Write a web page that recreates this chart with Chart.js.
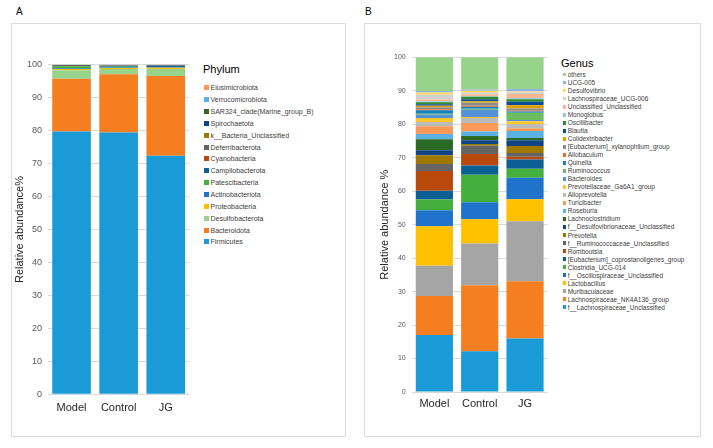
<!DOCTYPE html>
<html>
<head>
<meta charset="utf-8">
<script src="https://cdn.jsdelivr.net/npm/chart.js@4/dist/chart.umd.min.js"></script>
<style>
	html, body { margin: 0; padding: 0; background: #fff; }
	body { width: 713px; height: 448px; position: relative; overflow: hidden; font-family: "Liberation Sans", Arial, sans-serif; }
	.frame { position: absolute; box-sizing: border-box; border: 1px solid #dcdcdc; }
	.letter { position: absolute; font-size: 10px; line-height: 10px; color: #000; }
	canvas { position: absolute; }
	.legend-title { position: absolute; font-size: 11px; line-height: 11px; color: #000; white-space: nowrap; }
	.legend { position: absolute; color: #404040; white-space: nowrap; }
	.legend div { display: flex; align-items: center; }
	.legend span.box { display: inline-block; flex: none; }
</style>
</head>
<body>
<div class="letter" style="left:16px;top:7px;">A</div>
<div class="letter" style="left:365px;top:7px;">B</div>
<div class="frame" style="left:11px;top:23px;width:335px;height:414px;"></div>
<div class="frame" style="left:364px;top:23px;width:337px;height:414px;"></div>

<canvas id="phylum" width="190" height="414" style="left:11px;top:23px;width:190px;height:414px;"></canvas>
<div class="legend-title" style="left:203px;top:64px;">Phylum</div>
<div class="legend" id="phylumLegend" style="left:204px;top:81.8px;font-size:7px;"></div>

<canvas id="genus" width="190" height="414" style="left:364px;top:23px;width:190px;height:414px;"></canvas>
<div class="legend-title" style="left:561px;top:58px;">Genus</div>
<div class="legend" id="genusLegend" style="left:562.7px;top:70.7px;font-size:6.5px;"></div>

<script>
// Groups on the x axis
var groups = ['Model', 'Control', 'JG'];
var yTicks = [0, 10, 20, 30, 40, 50, 60, 70, 80, 90, 100];

// Phylum level, listed from the bottom of the stack to the top
var phylumNames = [
	'Firmicutes', 'Bacteroidota', 'Desulfobacterota', 'Proteobacteria',
	'Actinobacteriota', 'Patescibacteria', 'Campilobacterota', 'Cyanobacteria',
	'Deferribacterota', 'k__Bacteria_Unclassified', 'Spirochaetota',
	'SAR324_clade(Marine_group_B)', 'Verrucomicrobiota', 'Elusimicrobiota'
];
var phylumModel = [79.7, 16.0, 2.6, 0.4, 0.2, 0.6, 0.05, 0.05, 0.3, 0.02, 0.02, 0.02, 0.02, 0.02];
var phylumControl = [79.4, 17.7, 1.6, 0.3, 0.15, 0.2, 0.3, 0.1, 0.1, 0.05, 0.05, 0.02, 0.02, 0.01];
var phylumJG = [72.4, 24.2, 2.1, 0.4, 0.1, 0.1, 0.4, 0.02, 0.05, 0.02, 0.15, 0.02, 0.02, 0.02];

// Genus level, listed from the bottom of the stack to the top
var genusNames = [
	'f__Lachnospiraceae_Unclassified', 'Lachnospiraceae_NK4A136_group', 'Muribaculaceae',
	'Lactobacillus', 'f__Oscillospiraceae_Unclassified', 'Clostridia_UCG-014',
	'[Eubacterium]_coprostanoligenes_group', 'Romboutsia', 'f__Ruminococcaceae_Unclassified',
	'Prevotella', 'f__Desulfovibrionaceae_Unclassified', 'Lachnoclostridium', 'Roseburia',
	'Turicibacter', 'Alloprevotella', 'Prevotellaceae_Ga6A1_group', 'Bacteroides',
	'Ruminococcus', 'Quinella', 'Allobaculum', '[Eubacterium]_xylanophilum_group',
	'Colidextribacter', 'Blautia', 'Oscillibacter', 'Monoglobus', 'Unclassified_Unclassified',
	'Lachnospiraceae_UCG-006', 'Desulfovibrio', 'UCG-005', 'others'
];
var genusModel = [17.0, 11.7, 9.0, 11.8, 4.8, 3.2, 2.6, 5.9, 2.1, 2.6, 1.5, 3.3, 1.6, 2.3, 1.3,
	1.2, 0.9, 0.3, 1.1, 0.3, 0.6, 0.4, 0.5, 0.6, 0.3, 0.5, 1.4, 0.7, 0.4, 10.1];
var genusControl = [12.2, 19.7, 12.5, 7.2, 5.1, 8.2, 2.8, 3.4, 2.5, 0.5, 1.1, 1.3, 1.3, 2.6, 1.5,
	0.3, 2.1, 0.3, 0.6, 0.3, 0.9, 0.5, 0.6, 0.7, 0.2, 0.5, 0.5, 0.6, 0.4, 9.6];
var genusJG = [16.0, 17.1, 17.9, 6.6, 6.4, 2.7, 2.8, 0.8, 1.1, 2.1, 1.7, 0.7, 2.1, 0.8, 1.2,
	0.9, 0.4, 2.1, 0.4, 0.2, 0.7, 1.0, 1.0, 0.8, 0.3, 1.2, 0.5, 0.3, 0.7, 9.5];

// Colours, same order as the names above
var phylumColors = ['#1a9ad7', '#f47e20', '#97d38b', '#ffc000', '#1f73cb', '#44af3c', '#0b5f93',
	'#b8490a', '#646464', '#9f7800', '#0f4585', '#2b6a24', '#5ab2e4', '#f99a59'];
var genusColors = ['#1a9ad7', '#f47e20', '#a5a5a5', '#ffc000', '#1f73cb', '#44af3c', '#0b5f93',
	'#b8490a', '#646464', '#9f7800', '#0f4585', '#2b6a24', '#5ab2e4', '#f99a59', '#bbbbbb',
	'#ffc629', '#5591d8', '#6bbe5f', '#1481c0', '#f26b1d', '#8c8c8c', '#e0a000', '#0b4c97',
	'#2e8b2e', '#8fc8ee', '#fbb58f', '#d0d0d0', '#ffd966', '#8db3e2', '#97d38b'];

Chart.defaults.font.family = '"Liberation Sans", Arial, sans-serif';

/**
 * Build the stacked bars and the legend of one panel
 */
var drawPanel = function(canvasId, legendId, names, colors, series, box) {
	var datasets = names.map(function(name, i) {
		return {
			label: name,
			data: series.map(function(values) { return values[i]; }),
			backgroundColor: colors[i],
			borderWidth: 0,
			barPercentage: 0.82,
			categoryPercentage: 1
		};
	});

	new Chart(document.getElementById(canvasId).getContext('2d'), {
		type: 'bar',
		data: {
			labels: groups,
			datasets: datasets
		},
		options: {
			responsive: false,
			animation: false,
			layout: {
				padding: { top: box.top, right: box.right, bottom: 0, left: 0 }
			},
			plugins: {
				legend: { display: false },
				tooltip: { enabled: false }
			},
			scales: {
				x: {
					stacked: true,
					grid: { display: false, drawTicks: false },
					border: { display: false },
					ticks: { padding: box.xPad, color: '#262626', font: { size: 11 } },
					afterFit: function(scale) { scale.height = box.xHeight; }
				},
				y: {
					stacked: true,
					min: 0,
					max: 100,
					afterBuildTicks: function(scale) {
						scale.ticks = yTicks.map(function(v) { return { value: v }; });
					},
					grid: { color: '#d9d9d9', drawTicks: false },
					border: { display: false },
					ticks: { padding: 6, color: '#595959', font: { size: box.yFont } },
					title: {
						display: true,
						text: box.title,
						color: '#262626',
						font: { size: 11 },
						padding: { top: box.titlePad, bottom: 0 }
					},
					afterFit: function(scale) { scale.width = box.yWidth; }
				}
			}
		}
	});

	// Legend, top of the stack first
	var legend = document.getElementById(legendId);
	for (var i = names.length - 1; i >= 0; i--) {
		var item = document.createElement('div');
		item.style.height = box.step + 'px';
		var sq = document.createElement('span');
		sq.className = 'box';
		sq.style.width = box.sq + 'px';
		sq.style.height = box.sq + 'px';
		sq.style.marginRight = box.gap + 'px';
		sq.style.background = colors[i];
		item.appendChild(sq);
		item.appendChild(document.createTextNode(names[i]));
		legend.appendChild(item);
	}
};

drawPanel('phylum', 'phylumLegend', phylumNames, phylumColors,
	[phylumModel, phylumControl, phylumJG],
	{ top: 41.7, right: 11.7, xHeight: 42.7, xPad: 7, yWidth: 37, yFont: 9,
		title: 'Relative abundance%', titlePad: 2.4, step: 11.87, sq: 5, gap: 1.5 });

drawPanel('genus', 'genusLegend', genusNames, genusColors,
	[genusModel, genusControl, genusJG],
	{ top: 34.3, right: 6.3, xHeight: 45, xPad: 5.4, yWidth: 47.7, yFont: 7,
		title: 'Relative abundance %', titlePad: 14.4, step: 8.03, sq: 3.5, gap: 1.5 });
</script>
</body>
</html>
